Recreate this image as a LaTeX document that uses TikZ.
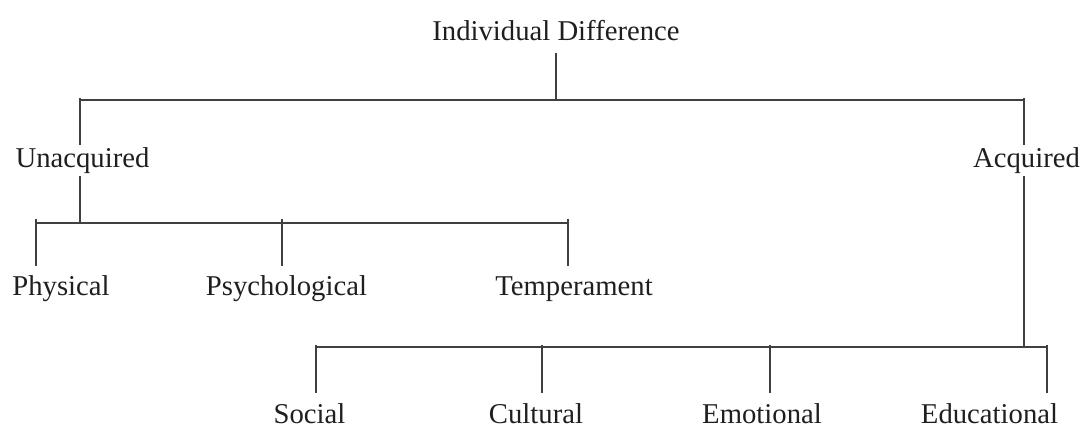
\documentclass[tikz,border=0pt]{standalone}
\usepackage{fontspec}
\setmainfont{Liberation Serif}
\begin{document}
\begin{tikzpicture}[x=1pt,y=-1pt,line width=1.2pt,
  lbl/.style={anchor=base,inner sep=1pt,text height=20pt,text depth=7pt,
    font=\fontsize{28.7}{34}\selectfont,text=black!88},
  link/.style={draw=black!75}]
\useasboundingbox (0,0) rectangle (1086,426);
% root and first level
\node[lbl] (diff) at (556,40) {Individual Difference};
\node[lbl] (unacq) at (82.5,167) {Unacquired};
\node[lbl] (acq) at (1026.5,167) {Acquired};
\path (80,100) coordinate (top-l) (556,100) coordinate (top-m) (1024,100) coordinate (top-r);
\path (80,223) coordinate (unacq-j) (1024,347) coordinate (acq-j);
\draw[link,shorten <=4pt] (diff.south) -- (top-m);
\draw[link] (top-l) -- (top-r);
\draw[link] ([yshift=2pt]top-l) -- (top-l |- unacq.north);
\draw[link] ([yshift=2pt]top-r) -- (top-r |- acq.north);
\draw[link] (top-l |- unacq.south) -- (unacq-j);
\draw[link] (top-r |- acq.south) -- (acq-j);
% unacquired
\foreach \n/\x/\lx/\t in {phys/36/61/Physical,psy/282/286.5/Psychological,temp/568/574/Temperament}{
  \node[lbl] (\n) at (\lx,295) {\t};
  \path (\x,223) coordinate (\n-j);
  \draw[link,shorten >=7pt] ([yshift=4pt]\n-j) -- (\n-j |- \n.north);
}
\draw[link] (phys-j) -- (temp-j);
% acquired
\foreach \n/\x/\lx/\t in {soc/316/309.5/Social,cult/542/536/Cultural,emo/770/762/Emotional,edu/1047/989.5/Educational}{
  \node[lbl] (\n) at (\lx,423) {\t};
  \path (\x,347) coordinate (\n-j);
  \draw[link,shorten >=8pt] ([yshift=2pt]\n-j) -- (\n-j |- \n.north);
}
\draw[link] (soc-j) -- (edu-j);
\end{tikzpicture}
\end{document}
